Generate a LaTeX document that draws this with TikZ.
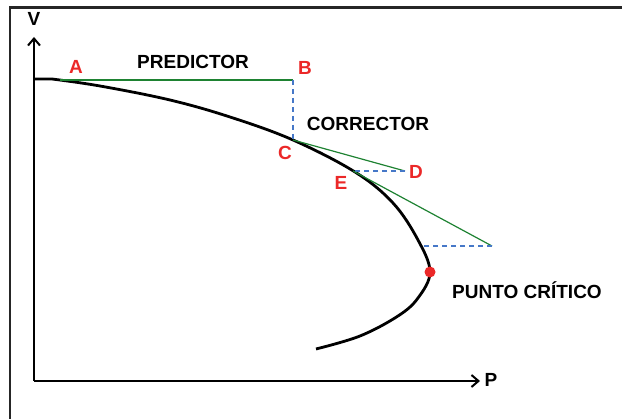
\documentclass[tikz,border=0pt]{standalone}
\usepackage{fontspec}
\setmainfont{Liberation Sans}
\usetikzlibrary{arrows.meta}
\definecolor{gline}{RGB}{30,130,50}
\definecolor{bline}{RGB}{70,120,200}
\definecolor{rlab}{RGB}{235,40,40}
\begin{document}
\begin{tikzpicture}[x=1pt,y=-1pt,
  lab/.style={font=\fontsize{19}{19}\selectfont\bfseries},
  rl/.style={lab,text=rlab},
  pred/.style={gline,line width=1.2pt},
  corr/.style={bline,line width=1.2pt,dash pattern=on 5pt off 4pt},
  axis/.style={line width=2.6pt,-{Straight Barb[length=7pt,width=12pt,line width=2pt]}}]
\useasboundingbox (0,0) rectangle (622,419);
\draw[line width=2.5pt,black!85] (10,420) -- (10,7.5) -- (623,7.5);
\coordinate (O) at (34,381);
\coordinate (Vt) at (34,37);
\coordinate (Pt) at (480,381);
\draw[axis] (O) -- (Vt);
\draw[axis] (O) -- (Pt);
\node[lab] (V) at (34,19) {V};
\node[lab] (P) at (491,380) {P};
% curve
\draw[line width=2.8pt,line join=round] (34,79) -- (52,79) plot[smooth,tension=0.6] coordinates {(52,79) (100,86) (170,100) (230,117) (293,140) (355,172) (393,203) (418,240) (430,272) (418,298) (398,316) (360,336) (316,349)};
\coordinate (A) at (60,80);
\coordinate (B) at (293,80);
\coordinate (C) at (293,140);
\coordinate (D) at (405,171);
\coordinate (E) at (353,171);
\coordinate (F) at (492,246);
\coordinate (G) at (423,246);
\draw[pred] (A) -- (B);
\draw[corr] (B) -- (C);
\draw[pred] (C) -- (D);
\draw[corr] (D) -- (E);
\draw[pred] (E) -- (F);
\draw[corr] (F) -- (G);
\fill[rlab] (430,272) circle (5.5);
\node[rl] (lA) at (76,67) {A};
\node[rl] (lB) at (305,68) {B};
\node[rl] (lC) at (285,153) {C};
\node[rl] (lD) at (416,172) {D};
\node[rl] (lE) at (341,183) {E};
\node[lab] (pr) at (193,62) {PREDICTOR};
\node[lab] (co) at (368,124) {CORRECTOR};
\node[lab] (pc) at (527,290) {PUNTO CRÍTICO};
\end{tikzpicture}
\end{document}
